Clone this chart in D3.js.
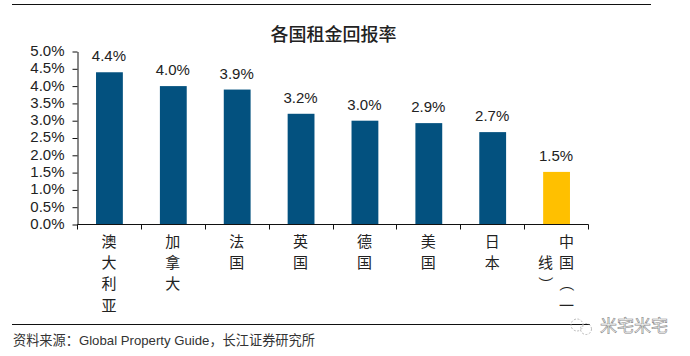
<!DOCTYPE html>
<html><head><meta charset="utf-8">
<script src="https://cdn.jsdelivr.net/npm/d3@7/dist/d3.min.js"></script>
<style>html,body{margin:0;padding:0;background:#fff}svg{display:block}
text{font-family:"Liberation Sans","Noto Sans CJK SC",sans-serif}</style></head>
<body><svg id="c" width="690" height="356"></svg>
<script>
const categories=["澳大利亚","加拿大","法国","英国","德国","美国","日本","中国（一线）"];
const values=[4.4,4.0,3.9,3.2,3.0,2.93,2.67,1.52];
const valueLabels=["4.4%","4.0%","3.9%","3.2%","3.0%","2.9%","2.7%","1.5%"];
const yTicks=[0,0.5,1,1.5,2,2.5,3,3.5,4,4.5,5];
const barColors=["#03517f","#03517f","#03517f","#03517f","#03517f","#03517f","#03517f","#ffc000"];
const title="各国租金回报率";
const source="资料来源：Global Property Guide，长江证券研究所";
const watermark="米宅米宅";

const svg=d3.select("#c");
const x=d3.scaleBand().domain(categories).range([77.5,588.5]).paddingInner(0.58).paddingOuter(0.29);
const bandStep=x.step();
const y=d3.scaleLinear().domain([0,5]).range([224.5,51.5]);
const cjk='"Noto Sans CJK SC",sans-serif';

svg.append("line").attr("x1",12).attr("x2",651).attr("y1",4.5).attr("y2",4.5).attr("stroke","#111").attr("stroke-width",1);
svg.append("line").attr("x1",12).attr("x2",590).attr("y1",324.5).attr("y2",324.5).attr("stroke","#111").attr("stroke-width",1);

svg.append("text").attr("x",333.5).attr("y",40.5).attr("text-anchor","middle")
  .style("font-family",cjk).style("font-size","18px").style("font-weight","500").attr("fill","#222").text(title);

const yAxis=d3.axisLeft(y).tickValues(yTicks).tickFormat(d=>d.toFixed(1)+"%").tickSize(5).tickSizeOuter(0);
const gy=svg.append("g").attr("transform","translate(77.5,0)").call(yAxis);
gy.selectAll("text").style("font-size","15px").attr("fill","#222").attr("x",-13).attr("dy","0.26em");
gy.selectAll("line,path").attr("stroke","#111");

svg.selectAll("rect.bar").data(values).join("rect").attr("class","bar")
  .attr("x",(d,i)=>x(categories[i])).attr("width",x.bandwidth())
  .attr("y",d=>y(d)).attr("height",d=>y(0)-y(d)).attr("fill",(d,i)=>barColors[i]);

svg.selectAll("text.val").data(values).join("text").attr("class","val")
  .attr("x",(d,i)=>x(categories[i])+x.bandwidth()/2-0.5).attr("y",d=>y(d)-11)
  .attr("text-anchor","middle").style("font-size","15px").attr("fill","#222").text((d,i)=>valueLabels[i]);

// x axis baseline and ticks
const ga=svg.append("g");
ga.append("line").attr("x1",77.5).attr("x2",588.5).attr("y1",224.5).attr("y2",224.5).attr("stroke","#111");
ga.selectAll("line.t").data(d3.range(categories.length+1)).join("line").attr("class","t")
  .attr("x1",i=>Math.round(77+i*bandStep)+0.5).attr("x2",i=>Math.round(77+i*bandStep)+0.5)
  .attr("y1",224.5).attr("y2",229.5).attr("stroke","#111");

// vertical category labels: four rows per column, the wrapped column starts on row two
const rowH=21.2, maxRows=4, colW=21;
const lab=svg.append("g").style("font-family",cjk).style("font-size","15px").attr("fill","#222");
categories.forEach((c,i)=>{
  const chars=Array.from(c);
  const cx=x(c)+x.bandwidth()/2-0.5;
  const cols=Math.ceil(chars.length/maxRows);
  chars.forEach((ch,k)=>{
    const col=Math.floor(k/maxRows), row=k%maxRows;
    const px=cx+(cols-1)*colW/2-col*colW;
    const py=col===0?241.5+row*rowH:262.7+row*21.2;
    const t=lab.append("text").attr("text-anchor","middle").attr("dominant-baseline","central").text(ch);
    if(ch==="（"||ch==="）"){
      t.attr("transform",`translate(${px},${py}) rotate(90)`);
    } else {
      t.attr("x",px).attr("y",py);
    }
  });
});

svg.append("text").attr("x",13).attr("y",345).style("font-size","13.2px").attr("fill","#333").text(source);

// watermark
const w=svg.append("g").attr("fill","none").attr("stroke","#aaa").attr("stroke-width",0.8);
w.append("circle").attr("cx",577).attr("cy",325).attr("r",6).attr("stroke-dasharray","2 1.5");
w.append("circle").attr("cx",586).attr("cy",329).attr("r",5.5).attr("stroke-dasharray","2 1.5");
svg.append("text").attr("x",600).attr("y",332).style("font-family",cjk).style("font-size","17px")
  .attr("fill","#fff").attr("stroke","#888").attr("stroke-width",0.6).text(watermark);
</script></body></html>
